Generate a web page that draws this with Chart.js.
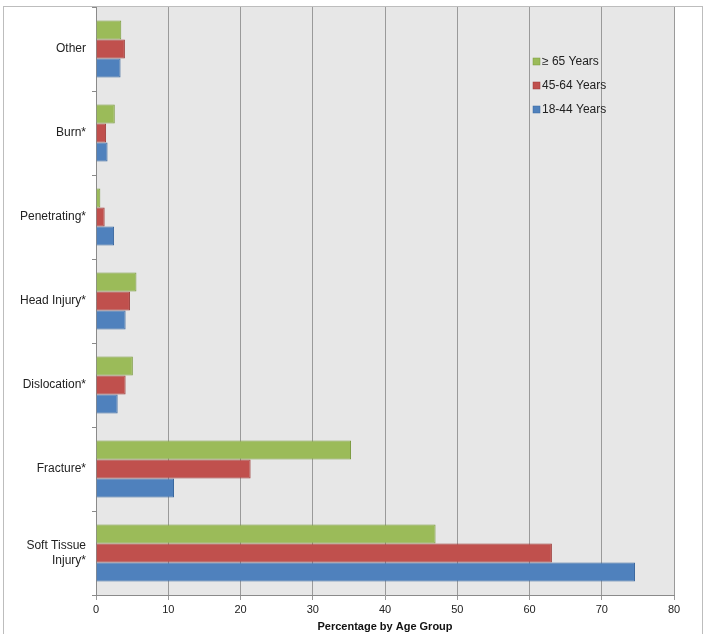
<!DOCTYPE html>
<html>
<head>
<meta charset="utf-8">
<script src="https://cdn.jsdelivr.net/npm/chart.js@4/dist/chart.umd.min.js"></script>
<style>
  html, body { margin: 0; padding: 0; background: #fff; }
  #wrap { width: 706px; height: 634px; position: relative; }
</style>
</head>
<body>
<div id="wrap"><canvas id="myChart" width="706" height="634"></canvas></div>
<script>
// injury categories, top to bottom
var categories = ['Other', 'Burn*', 'Penetrating*', 'Head Injury*', 'Dislocation*', 'Fracture*', ['Soft Tissue', 'Injury*']];

// percentage by age group
var over65 = [3.5, 2.6, 0.6, 5.6, 5.1, 35.3, 47.0];
var age45to64 = [4.0, 1.4, 1.2, 4.7, 4.1, 21.4, 63.1];
var age18to44 = [3.4, 1.6, 2.5, 4.1, 3.0, 10.8, 74.6];

var seriesNames = ['\u2265 65 Years', '45-64 Years', '18-44 Years'];
var xTicks = [0, 10, 20, 30, 40, 50, 60, 70, 80];

var fills = ['#9bbb59', '#c0504d', '#4f81bd'];
var edges = ['#7a9a3e', '#9b3936', '#3a679e'];

var FONT = 'Arial, "Liberation Sans", Helvetica, sans-serif';

// gray plot area + outer frame
var backdrop = {
    id: 'backdrop',
    beforeDraw: function(chart) {
        var c = chart.ctx, a = chart.chartArea;
        c.save();
        c.fillStyle = '#e7e7e7';
        c.fillRect(a.left, a.top, a.right - a.left, a.bottom - a.top);
        c.strokeStyle = '#bdbdbd';
        c.lineWidth = 1;
        c.strokeRect(3.5, 6.5, 699, 640);
        c.restore();
    }
};

// legend drawn inside plot area
var innerLegend = {
    id: 'innerLegend',
    afterDraw: function(chart) {
        var c = chart.ctx;
        c.save();
        c.font = '12px ' + FONT;
        c.textBaseline = 'middle';
        chart.data.datasets.forEach(function(ds, i) {
            var y = 62 + i * 24;
            c.fillStyle = ds.backgroundColor;
            c.fillRect(533, y - 4, 7, 7);
            c.strokeStyle = ds.borderColor;
            c.lineWidth = 0.5;
            c.strokeRect(533, y - 4, 7, 7);
            c.fillStyle = '#222';
            c.fillText(ds.label, 542, y);
        });
        c.restore();
    }
};

var ctx = document.getElementById('myChart').getContext('2d');
var myChart = new Chart(ctx, {
    type: 'bar',
    data: {
        labels: categories,
        datasets: [
            { label: seriesNames[0], data: over65, backgroundColor: fills[0], borderColor: edges[0], borderWidth: 1 },
            { label: seriesNames[1], data: age45to64, backgroundColor: fills[1], borderColor: edges[1], borderWidth: 1 },
            { label: seriesNames[2], data: age18to44, backgroundColor: fills[2], borderColor: edges[2], borderWidth: 1 }
        ]
    },
    options: {
        indexAxis: 'y',
        responsive: false,
        animation: false,
        categoryPercentage: 0.68,
        barPercentage: 1.0,
        layout: { padding: { left: 0, top: 7, right: 32, bottom: 0 } },
        plugins: {
            legend: { display: false },
            tooltip: { enabled: false }
        },
        scales: {
            x: {
                min: 0,
                max: 80,
                afterBuildTicks: function(scale) {
                    scale.ticks = xTicks.map(function(v) { return { value: v }; });
                },
                afterFit: function(scale) {
                    scale.height = 39;
                    scale.paddingLeft = 0;
                    scale.paddingRight = 0;
                },
                grid: { color: '#9a9a9a', lineWidth: 1, tickLength: 5 },
                border: { color: '#8a8a8a' },
                ticks: { color: '#222', font: { family: FONT, size: 11 }, padding: 3 },
                title: {
                    display: true,
                    text: 'Percentage by Age Group',
                    color: '#111',
                    font: { family: FONT, size: 11, weight: 'bold' },
                    padding: { top: 0, bottom: 0 }
                }
            },
            y: {
                afterFit: function(scale) {
                    scale.width = 96;
                    scale.paddingTop = 0;
                    scale.paddingBottom = 0;
                },
                grid: { drawOnChartArea: false, offset: true, tickLength: 4, color: '#8a8a8a' },
                border: { color: '#8a8a8a' },
                ticks: { color: '#222', font: { family: FONT, size: 12 }, padding: 6 }
            }
        }
    },
    plugins: [backdrop, innerLegend]
});
</script>
</body>
</html>
